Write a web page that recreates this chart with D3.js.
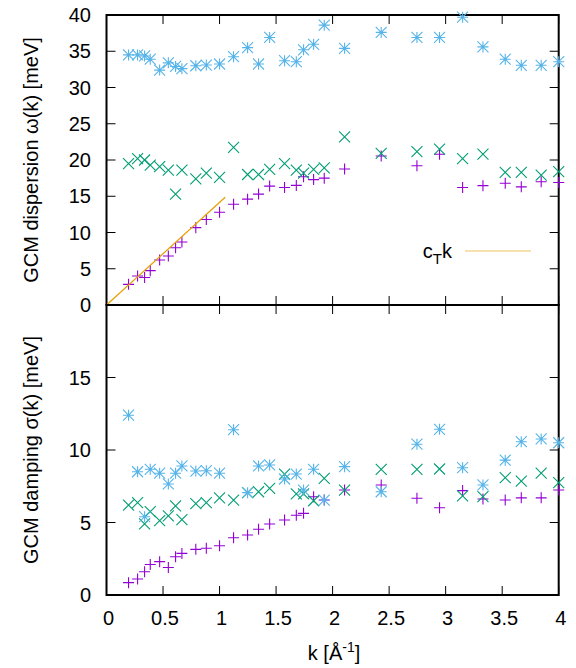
<!DOCTYPE html>
<html>
<head>
<meta charset="utf-8">
<script src="https://cdn.jsdelivr.net/npm/d3@7"></script>
<style>
  body { margin: 0; background: #fff; }
  text { font-family: "Liberation Sans", Arial, Helvetica, sans-serif; fill: #000; }
</style>
</head>
<body>
<div id="chart"></div>
<script>
const width = 576, height = 668;

// wavevector k [1/A]
const kVals = [0.195, 0.275, 0.337, 0.387, 0.47, 0.547, 0.611, 0.667, 0.79, 0.883,
  1.0, 1.124, 1.248, 1.345, 1.443, 1.575, 1.679, 1.743, 1.832, 1.926,
  2.106, 2.43, 2.746, 2.946, 3.15, 3.33, 3.527, 3.669, 3.845, 4.0];

// dispersion omega(k) [meV]
const omegaPlus = [2.85, 4.0, 3.8, 4.74, 6.2, 6.76, 7.9, 8.7, 10.67, 11.8,
  12.8, 13.9, 14.6, 15.3, 16.4, 16.2, 16.5, 17.7, 17.3, 17.5,
  18.76, 20.55, 19.2, 20.8, 16.2, 16.46, 16.8, 16.3, 17.0, 16.9];
const omegaCross = [19.5, 20.2, 20.0, 19.3, 19.1, 18.6, 15.3, 18.6, 17.4, 18.2,
  17.6, 21.75, 18.0, 18.0, 18.7, 19.5, 18.6, 18.2, 18.7, 18.9,
  23.2, 20.9, 21.15, 21.5, 20.2, 20.8, 18.3, 18.3, 17.9, 18.4];
const omegaStar = [34.5, 34.5, 34.35, 33.9, 32.4, 33.4, 32.9, 32.6, 33.0, 33.1,
  33.24, 34.25, 35.5, 33.24, 36.9, 33.7, 33.56, 35.2, 35.96, 38.6,
  35.4, 37.6, 36.9, 36.9, 39.7, 35.6, 33.9, 33.06, 33.06, 33.56];

// damping sigma(k) [meV]
const sigmaPlus = [0.85, 1.1, 1.6, 2.1, 2.3, 1.9, 2.64, 2.87, 3.15, 3.22,
  3.4, 3.95, 4.14, 4.53, 4.9, 5.17, 5.5, 5.63, 6.78, 6.55,
  7.24, 7.59, 6.67, 6.02, 7.2, 6.62, 6.55, 6.7, 6.7, 7.24];
const sigmaCross = [6.2, 6.37, 4.9, 5.75, 5.13, 5.45, 6.14, 5.2, 6.3, 6.37,
  6.7, 6.55, 7.06, 7.12, 7.36, 8.34, 6.97, 6.97, 6.5, 8.05,
  7.24, 8.67, 8.67, 8.69, 6.83, 6.78, 8.09, 7.86, 8.4, 7.75];
const sigmaStar = [12.4, 8.5, 5.4, 8.67, 8.4, 7.66, 8.4, 8.9, 8.55, 8.57,
  8.4, 11.4, 7.06, 8.9, 8.97, 8.0, 8.34, 7.24, 8.67, 6.55,
  8.85, 7.12, 10.4, 11.43, 8.78, 7.59, 9.3, 10.57, 10.76, 10.5];

// transverse sound line c_T * k
const ctSlope = 14.15;
const ctLineK = [0, 1.05];

const xTicks = [0, 0.5, 1, 1.5, 2, 2.5, 3, 3.5, 4];
const topTicks = [0, 5, 10, 15, 20, 25, 30, 35, 40];
const bottomTicks = [0, 5, 10, 15];

const left = 106.5, right = 558.7;
const topY0 = 15, midY = 305, botY = 595;
const tickLen = 9;
const fs = "20px";

const svg = d3.select("#chart")
  .append("svg")
  .attr("width", width)
  .attr("height", height);

const x = d3.scaleLinear().domain([0, 4]).range([left, right]);
const yTop = d3.scaleLinear().domain([0, 40]).range([midY, topY0]);
const yBot = d3.scaleLinear().domain([0, 20]).range([botY, midY]);

const colors = { plus: "#9400D3", cross: "#009E73", star: "#56B4E9" };
const r = 5.5;
const shapes = {
  plus: `M${-r},0H${r}M0,${-r}V${r}`,
  cross: `M${-r},${-r}L${r},${r}M${-r},${r}L${r},${-r}`,
  star: `M${-r},0H${r}M0,${-r}V${r}M${-r},${-r}L${r},${r}M${-r},${r}L${r},${-r}`
};

function drawPanel(yScale, yTicks, y0, y1, series, title) {
  const g = svg.append("g");

  // ticks on all four sides, pointing inward
  const tg = g.append("g").attr("stroke", "#000").attr("stroke-width", 1);
  yTicks.forEach(function(v) {
    const yy = yScale(v);
    tg.append("line").attr("x1", left).attr("x2", left + tickLen).attr("y1", yy).attr("y2", yy);
    tg.append("line").attr("x1", right).attr("x2", right - tickLen).attr("y1", yy).attr("y2", yy);
    g.append("text")
      .attr("x", 91)
      .attr("y", yy)
      .attr("dy", "0.36em")
      .attr("text-anchor", "end")
      .style("font-size", fs)
      .text(v);
  });
  xTicks.forEach(function(v) {
    const xx = x(v);
    tg.append("line").attr("x1", xx).attr("x2", xx).attr("y1", y0).attr("y2", y0 - tickLen);
    tg.append("line").attr("x1", xx).attr("x2", xx).attr("y1", y1).attr("y2", y1 + tickLen);
  });

  // frame
  g.append("rect")
    .attr("x", left).attr("y", y1)
    .attr("width", right - left).attr("height", y0 - y1)
    .attr("fill", "none")
    .attr("stroke", "#000")
    .attr("stroke-width", 2);

  // y title
  g.append("text")
    .attr("transform", `translate(38,${(y0 + y1) / 2}) rotate(-90)`)
    .attr("text-anchor", "middle")
    .style("font-size", fs)
    .text(title);

  // points
  series.forEach(function(s) {
    g.append("g").selectAll("path")
      .data(kVals.map((k, i) => [k, s.values[i]]))
      .join("path")
      .attr("transform", (d) => `translate(${x(d[0])},${yScale(d[1])})`)
      .attr("d", shapes[s.shape])
      .attr("fill", "none")
      .attr("stroke", colors[s.shape])
      .attr("stroke-width", 1.1);
  });
  return g;
}

const topG = drawPanel(yTop, topTicks, midY, topY0, [
  { shape: "plus", values: omegaPlus },
  { shape: "cross", values: omegaCross },
  { shape: "star", values: omegaStar }
], "GCM dispersion \u03c9(k) [meV]");

// c_T k line
topG.append("path")
  .datum(ctLineK)
  .attr("d", d3.line().x((k) => x(k)).y((k) => yTop(ctSlope * k)))
  .attr("fill", "none")
  .attr("stroke", "#E69F00")
  .attr("stroke-width", 1.2);

// legend
const leg = svg.append("g");
const legText = leg.append("text")
  .attr("x", 452)
  .attr("y", 258)
  .attr("text-anchor", "end")
  .style("font-size", fs);
legText.append("tspan").text("c");
legText.append("tspan").attr("dy", 6).style("font-size", "15px").text("T");
legText.append("tspan").attr("dy", -6).text("k");
leg.append("line")
  .attr("x1", 465).attr("x2", 531)
  .attr("y1", 251).attr("y2", 251)
  .attr("stroke", "#E69F00")
  .attr("stroke-opacity", 0.65)
  .attr("stroke-width", 1.2);

drawPanel(yBot, bottomTicks, botY, midY, [
  { shape: "plus", values: sigmaPlus },
  { shape: "cross", values: sigmaCross },
  { shape: "star", values: sigmaStar }
], "GCM damping \u03c3(k) [meV]");

// x tick labels
xTicks.forEach(function(v) {
  svg.append("text")
    .attr("x", x(v) + 2)
    .attr("y", 625)
    .attr("text-anchor", "middle")
    .style("font-size", fs)
    .text(v);
});

// x title
const xt = svg.append("text")
  .attr("x", 334)
  .attr("y", 660)
  .attr("text-anchor", "middle")
  .style("font-size", fs);
xt.append("tspan").text("k [\u00c5");
xt.append("tspan").attr("dy", -8).style("font-size", "14px").text("-1");
xt.append("tspan").attr("dy", 8).text("]");
</script>
</body>
</html>
